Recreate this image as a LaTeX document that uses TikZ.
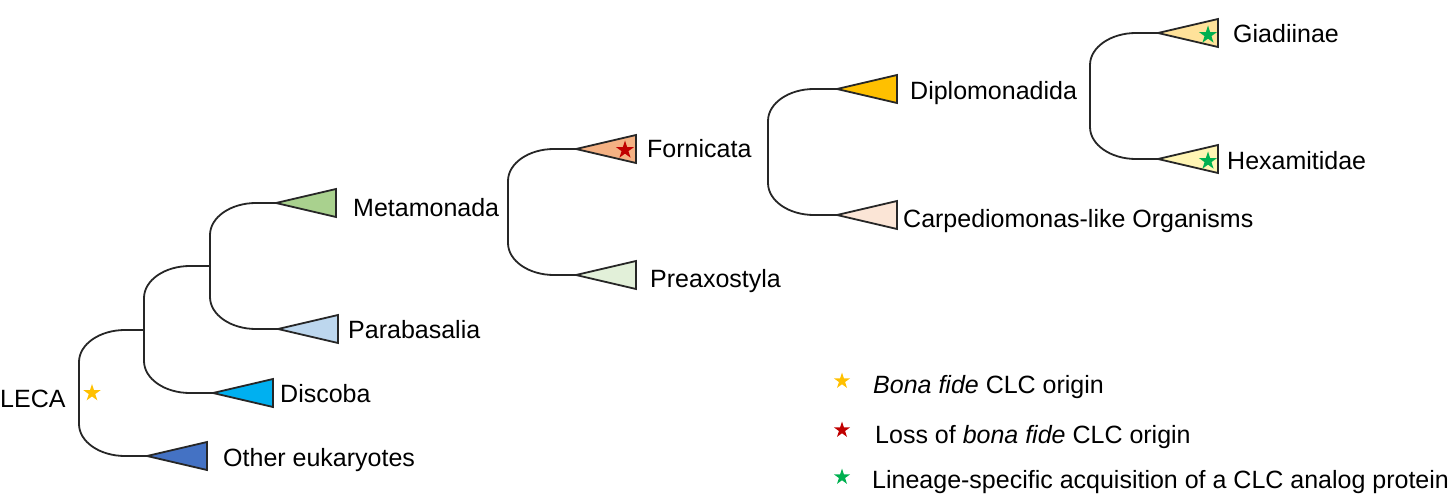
\documentclass[tikz,border=0pt]{standalone}
\usepackage{fontspec}
\setmainfont{Liberation Sans}
\usetikzlibrary{shapes.geometric,calc}
\definecolor{metgreen}{HTML}{A9D18E}
\definecolor{parablue}{HTML}{BDD7EE}
\definecolor{discblue}{HTML}{00B0F0}
\definecolor{othblue}{HTML}{4472C4}
\definecolor{fornorange}{HTML}{F4B183}
\definecolor{preaxgreen}{HTML}{E2F0D9}
\definecolor{diplgold}{HTML}{FFC000}
\definecolor{carppink}{HTML}{FBE5D6}
\definecolor{giayel}{HTML}{FFE29A}
\definecolor{hexyel}{HTML}{FFF5B4}
\definecolor{staryel}{HTML}{FFC000}
\definecolor{starred}{HTML}{C00000}
\definecolor{stargreen}{HTML}{00B050}
\definecolor{linecol}{HTML}{262626}
\tikzset{
  branch/.style={draw=linecol, line width=1.8pt},
  tri/.style={draw=linecol, line width=1.8pt, line join=miter},
  lbl/.style={anchor=base west, inner sep=0pt, font=\fontsize{25}{30}\selectfont, text=black},
  starmark/.style={star, star points=5, star point ratio=2.618, inner sep=0pt, draw=none, minimum size=#1},
  starmark/.default=16pt
}
\newcommand{\clade}[2]{\draw[tri, fill=#2] (#1) -- ++(60,-14) -- ++(0,28) -- cycle;}
% bracket from top end (#1) through vertical at node (#2) to bottom end (#3)
\newcommand{\cladebranch}[3]{%
  \draw[branch] (#1) -- ($(#2|-#1)+(46,0)$)
    .. controls ($(#2|-#1)+(20.6,0)$) and ($(#2|-#1)+(0,14.3)$) .. ($(#2|-#1)+(0,32)$)
    -- ($(#2|-#3)+(0,-32)$)
    .. controls ($(#2|-#3)+(0,-14.3)$) and ($(#2|-#3)+(20.6,0)$) .. ($(#2|-#3)+(46,0)$)
    -- (#3);}
\begin{document}
\begin{tikzpicture}[x=1pt, y=-1pt]
\useasboundingbox (0,0) rectangle (1453,497);
% internal nodes
\coordinate (n1) at (79,393);
\coordinate (n2) at (144,330);
\coordinate (n3) at (210,266);
\coordinate (nm) at (508,212);
\coordinate (nf) at (768,152);
\coordinate (nd) at (1090,96);
% tips
\coordinate (tOth) at (147,456);
\coordinate (tDis) at (213,393);
\coordinate (tMet) at (276,203);
\coordinate (tPar) at (278,329);
\coordinate (tFor) at (576,149);
\coordinate (tPre) at (576,275);
\coordinate (tDip) at (837,89);
\coordinate (tCar) at (837,215);
\coordinate (tGia) at (1158,33);
\coordinate (tHex) at (1158,159);
% branches
\cladebranch{n2}{n1}{tOth}
\cladebranch{n3}{n2}{tDis}
\cladebranch{tMet}{n3}{tPar}
\cladebranch{tFor}{nm}{tPre}
\cladebranch{tDip}{nf}{tCar}
\cladebranch{tGia}{nd}{tHex}
% clades
\clade{tOth}{othblue}
\clade{tDis}{discblue}
\clade{tMet}{metgreen}
\clade{tPar}{parablue}
\clade{tFor}{fornorange}
\clade{tPre}{preaxgreen}
\clade{tDip}{diplgold}
\clade{tCar}{carppink}
\clade{tGia}{giayel}
\clade{tHex}{hexyel}
% stars
\node[starmark=18pt, fill=staryel] (sLeca) at (92,393) {};
\node[starmark=19pt, fill=starred] (sFor) at (625,150) {};
\node[starmark=19pt, fill=stargreen] (sGia) at (1208,35) {};
\node[starmark=19pt, fill=stargreen] (sHex) at (1208,161) {};
% labels
\node[lbl] (lLeca) at (0,407) {LECA};
\node[lbl] (lOth) at (223,466) {Other eukaryotes};
\node[lbl] (lDis) at (280,402) {Discoba};
\node[lbl] (lPar) at (348,338) {Parabasalia};
\node[lbl] (lMet) at (353,216) {Metamonada};
\node[lbl] (lFor) at (647,158) {Fornicata};
\node[lbl] (lPre) at (650,287) {Preaxostyla};
\node[lbl] (lDip) at (910,100) {Diplomonadida};
\node[lbl] (lCar) at (903,227) {Carpediomonas-like Organisms};
\node[lbl] (lGia) at (1233,43) {Giadiinae};
\node[lbl] (lHex) at (1227,170) {Hexamitidae};
% legend
\node[starmark=17pt, fill=staryel] (k1) at (842,381) {};
\node[starmark=17pt, fill=starred] (k2) at (842,430) {};
\node[starmark=17pt, fill=stargreen] (k3) at (842,477) {};
\node[lbl] (t1) at (873,393) {\textit{Bona fide} CLC origin};
\node[lbl] (t2) at (875,443) {Loss of \textit{bona fide} CLC origin};
\node[lbl] (t3) at (872,488) {Lineage-specific acquisition of a CLC analog protein};
\end{tikzpicture}
\end{document}
